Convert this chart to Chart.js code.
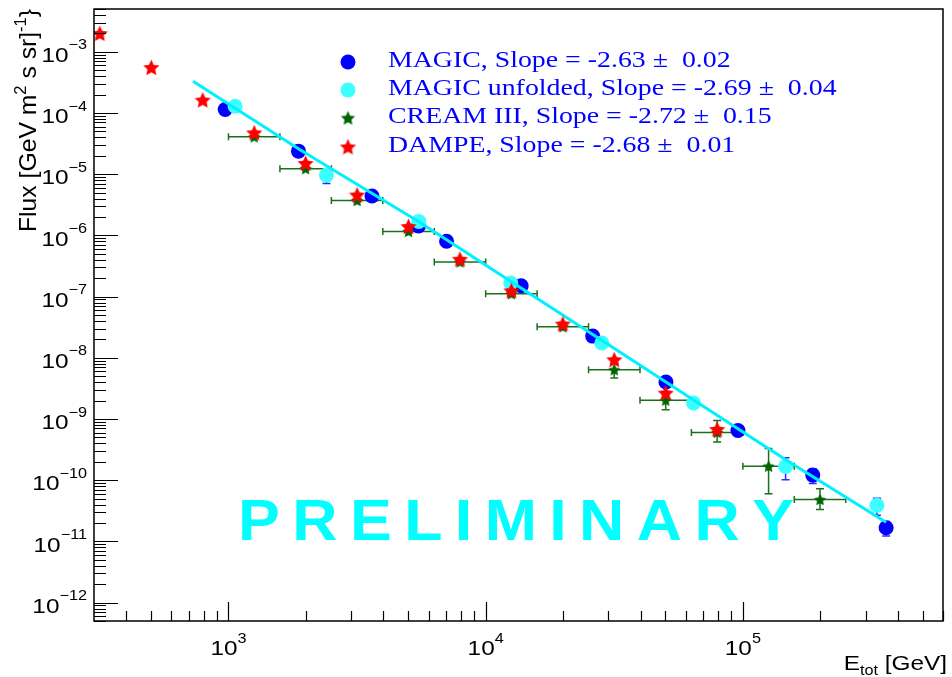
<!DOCTYPE html>
<html>
<head>
<meta charset="utf-8">
<title>Proton flux</title>
<script src="https://cdn.jsdelivr.net/npm/chart.js@4.4.1/dist/chart.umd.min.js"></script>
<style>
  html, body { margin: 0; padding: 0; background: #fff; }
  canvas { display: block; }
</style>
</head>
<body>
<canvas id="fluxChart" width="952" height="677"></canvas>
<script>
// MAGIC
const magicE = [971, 1871, 3614, 5480, 7046, 13740, 26060, 50230, 95700, 187000, 360600];
const magicF = [1.14e-4, 2.38e-5, 4.40e-6, 1.42e-6, 8.02e-7, 1.50e-7, 2.26e-8, 4.03e-9, 6.48e-10, 1.21e-10, 1.67e-11];
const magicErr = [3e-6, 7e-7, 1.5e-7, 5e-8, 3e-8, 6e-9, 1e-9, 2e-10, 3e-11, 3.29e-11, 4.5e-12];

// MAGIC unfolded
const unfoldE = [1061, 2404, 5495, 12520, 28300, 64300, 146600, 332000];
const unfoldF = [1.29e-4, 9.66e-6, 1.69e-6, 1.67e-7, 1.74e-8, 1.82e-9, 1.67e-10, 3.88e-11];
const unfoldErr = [4e-6, 2.63e-6, 6e-8, 6e-9, 7e-10, 1e-10, 6.5e-11, 1.2e-11];

// CREAM III (energy bins)
const creamE = [1259, 1995, 3162, 5012, 7943, 12589, 19953, 31623, 50119, 79433, 125893, 199526];
const creamEmin = [1000, 1585, 2512, 3981, 6310, 10000, 15849, 25119, 39811, 63096, 100000, 158489];
const creamEmax = [1585, 2512, 3981, 6310, 10000, 15849, 25119, 39811, 63096, 100000, 158489, 251189];
const creamF = [4.07e-5, 1.23e-5, 3.71e-6, 1.16e-6, 3.68e-7, 1.11e-7, 3.21e-8, 6.37e-9, 2.03e-9, 6.04e-10, 1.69e-10, 4.83e-11];
const creamErrLo = [1.5e-6, 5e-7, 1.6e-7, 5.5e-8, 1.8e-8, 6e-9, 2.5e-9, 1.70e-9, 6.1e-10, 1.85e-10, 1.09e-10, 1.52e-11];
const creamErrHi = [1.5e-6, 5e-7, 1.6e-7, 5.5e-8, 1.8e-8, 6e-9, 2.5e-9, 1.76e-9, 6.1e-10, 3.42e-10, 1.59e-10, 2.38e-11];

// DAMPE
const dampeE = [316, 501, 794, 1259, 1995, 3162, 5012, 7943, 12589, 19953, 31623, 50119, 79433];
const dampeF = [1.98e-3, 5.52e-4, 1.62e-4, 4.73e-5, 1.50e-5, 4.56e-6, 1.39e-6, 4.07e-7, 1.24e-7, 3.56e-8, 9.27e-9, 2.65e-9, 6.76e-10];

// power-law fit curve
const fitE = [728, 1883, 5480, 12450, 28250, 64100, 148300, 360600];
const fitF = [3.30e-4, 2.56e-5, 1.69e-6, 1.80e-7, 1.93e-8, 2.07e-9, 2.09e-10, 2.06e-11];

const legendLabels = [
  'MAGIC, Slope = -2.63 \u00b1  0.02',
  'MAGIC unfolded, Slope = -2.69 \u00b1  0.04',
  'CREAM III, Slope = -2.72 \u00b1  0.15',
  'DAMPE, Slope = -2.68 \u00b1  0.01'
];
const xTickExp = [3, 4, 5];
const yTickExp = [-3, -4, -5, -6, -7, -8, -9, -10, -11, -12];
const xRange = [300, 6e5];
const yRange = [5e-13, 5e-3];

const BLUE = '#0000ff', CYAN = '#3cffff', GREEN = '#006400', RED = '#ff0000';
const SX = 1.16;              // horizontal glyph stretch
const SANS = 'Liberation Sans, Arial, Helvetica, sans-serif';
const SERIF = 'Liberation Serif, Times New Roman, serif';

function toPoints(xs, ys) {
  return xs.map((x, i) => ({ x: x, y: ys[i] }));
}

function starCanvas(radius, color) {
  const s = Math.ceil(radius * 2 + 2);
  const c = document.createElement('canvas');
  c.width = s; c.height = s;
  const g = c.getContext('2d');
  g.fillStyle = color;
  g.beginPath();
  for (let i = 0; i < 10; i++) {
    const r = i % 2 === 0 ? radius : radius * 0.48;
    const a = -Math.PI / 2 + i * Math.PI / 5;
    g.lineTo(s / 2 + r * Math.cos(a), s / 2 + 0.6 + r * Math.sin(a));
  }
  g.closePath();
  g.fill();
  return c;
}
const redStar = starCanvas(8.5, RED);
const greenStar = starCanvas(6.5, GREEN);
const greenStarKey = starCanvas(7.5, GREEN);

// text made of runs: [text, font, dy]
function runWidth(ctx, parts, sx) {
  let w = 0;
  parts.forEach(p => { ctx.font = p[1]; w += ctx.measureText(p[0]).width * sx; });
  return w;
}
function drawRun(ctx, parts, x, y, align, sx) {
  const total = runWidth(ctx, parts, sx);
  let cx = align === 'right' ? x - total : align === 'center' ? x - total / 2 : x;
  parts.forEach(p => {
    ctx.font = p[1];
    ctx.save();
    ctx.translate(cx, y + (p[2] || 0));
    ctx.scale(sx, 1);
    ctx.textAlign = 'left';
    ctx.textBaseline = 'alphabetic';
    ctx.fillText(p[0], 0, 0);
    ctx.restore();
    cx += ctx.measureText(p[0]).width * sx;
  });
}
function expText(e) {
  return e < 0 ? '\u2212' + (-e) : String(e);
}

const errorBars = {
  id: 'errorBars',
  beforeDatasetsDraw(chart) {
    const ctx = chart.ctx, xs = chart.scales.x, ys = chart.scales.y, a = chart.chartArea;
    ctx.save();
    ctx.beginPath();
    ctx.rect(a.left, a.top, a.right - a.left, a.bottom - a.top);
    ctx.clip();
    ctx.lineWidth = 1.5;
    chart.data.datasets.forEach(ds => {
      const er = ds.errors;
      if (!er) return;
      ctx.strokeStyle = ds.errorColor;
      ds.data.forEach((p, i) => {
        const px = xs.getPixelForValue(p.x);
        const py = ys.getPixelForValue(p.y);
        ctx.beginPath();
        if (er.yLo) {
          const y1 = ys.getPixelForValue(Math.max(p.y - er.yLo[i], 1e-30));
          const y2 = ys.getPixelForValue(p.y + er.yHi[i]);
          ctx.moveTo(px, y1); ctx.lineTo(px, y2);
          ctx.moveTo(px - 4, y1); ctx.lineTo(px + 4, y1);
          ctx.moveTo(px - 4, y2); ctx.lineTo(px + 4, y2);
        }
        if (er.xLo) {
          const x1 = xs.getPixelForValue(er.xLo[i]);
          const x2 = xs.getPixelForValue(er.xHi[i]);
          ctx.moveTo(x1, py); ctx.lineTo(x2, py);
          ctx.moveTo(x1, py - 3.5); ctx.lineTo(x1, py + 3.5);
          ctx.moveTo(x2, py - 3.5); ctx.lineTo(x2, py + 3.5);
        }
        ctx.stroke();
      });
    });
    ctx.restore();
  }
};

const watermark = {
  id: 'watermark',
  beforeDatasetsDraw(chart) {
    const ctx = chart.ctx;
    const word = 'PRELIMINARY';
    const font = 'bold 57px ' + SANS;
    const sx = 1.1, x0 = 238, x1 = 794;
    ctx.save();
    ctx.font = font;
    ctx.fillStyle = '#00ffff';
    const widths = word.split('').map(c => ctx.measureText(c).width * sx);
    const gap = (x1 - x0 - widths.reduce((s, w) => s + w, 0)) / (word.length - 1);
    let x = x0;
    word.split('').forEach((c, i) => {
      drawRun(ctx, [[c, font, 0]], x, 540, 'left', sx);
      x += widths[i] + gap;
    });
    ctx.restore();
  }
};

const rootAxes = {
  id: 'rootAxes',
  afterDraw(chart) {
    const ctx = chart.ctx, xs = chart.scales.x, ys = chart.scales.y, a = chart.chartArea;
    ctx.save();
    ctx.strokeStyle = '#000';
    ctx.fillStyle = '#000';

    // ticks
    ctx.lineWidth = 1.2;
    ctx.beginPath();
    for (let d = -13; d <= -3; d++) {
      for (let m = 1; m <= 9; m++) {
        const v = m * Math.pow(10, d);
        if (v < yRange[0] || v > yRange[1]) continue;
        const py = Math.round(ys.getPixelForValue(v)) + 0.5;
        ctx.moveTo(a.left, py);
        ctx.lineTo(a.left + (m === 1 ? 24 : 12), py);
      }
    }
    for (let d = 2; d <= 5; d++) {
      for (let m = 1; m <= 9; m++) {
        const v = m * Math.pow(10, d);
        if (v <= xRange[0] || v > xRange[1]) continue;
        const px = Math.round(xs.getPixelForValue(v)) + 0.5;
        ctx.moveTo(px, a.bottom);
        ctx.lineTo(px, a.bottom - (m === 1 ? 19 : 10));
      }
    }
    ctx.stroke();

    // frame
    ctx.lineWidth = 1.5;
    ctx.strokeRect(a.left, a.top, a.right - a.left, a.bottom - a.top);

    // tick labels
    const base = '21px ' + SANS, sup = '14px ' + SANS;
    yTickExp.forEach(e => {
      const py = ys.getPixelForValue(Math.pow(10, e));
      drawRun(ctx, [['10', base, 0], [expText(e), sup, -12.5]], 87, py + 10.2, 'right', SX);
    });
    xTickExp.forEach(e => {
      const px = xs.getPixelForValue(Math.pow(10, e));
      drawRun(ctx, [['10', base, 0], [expText(e), sup, -12.5]], px, 655, 'center', SX);
    });

    // axis titles
    drawRun(ctx, [['E', base, 0], ['tot', sup, 5], [' [GeV]', base, 0]], 947, 670, 'right', SX);
    ctx.save();
    ctx.translate(36, 9);
    ctx.rotate(-Math.PI / 2);
    const tf = '24px ' + SANS, ts = '16px ' + SANS;
    drawRun(ctx, [['Flux [GeV m', tf, 0], ['2', ts, -10], [' s sr]', tf, 0], ['-1', ts, -10], ['}', tf, 0]], 0, 0, 'right', 1.03);
    ctx.restore();

    // legend
    const rows = [62, 90, 118, 147];
    ctx.fillStyle = BLUE;
    ctx.beginPath(); ctx.arc(348, rows[0], 7.5, 0, Math.PI * 2); ctx.fill();
    ctx.fillStyle = CYAN;
    ctx.beginPath(); ctx.arc(348, rows[1], 7.5, 0, Math.PI * 2); ctx.fill();
    ctx.drawImage(greenStarKey, 348 - greenStarKey.width / 2, rows[2] - greenStarKey.height / 2);
    ctx.drawImage(redStar, 348 - redStar.width / 2, rows[3] - redStar.height / 2);
    ctx.fillStyle = BLUE;
    const lf = '24px ' + SERIF;
    legendLabels.forEach((t, i) => {
      drawRun(ctx, [[t, lf, 0]], 388, rows[i] + 5, 'left', SX);
    });
    ctx.restore();
  }
};

new Chart(document.getElementById('fluxChart').getContext('2d'), {
  type: 'scatter',
  data: {
    datasets: [
      {
        label: 'DAMPE',
        data: toPoints(dampeE, dampeF),
        pointStyle: redStar,
        pointRadius: 8,
        order: 0
      },
      {
        label: 'CREAM III',
        data: toPoints(creamE, creamF),
        pointStyle: greenStar,
        pointRadius: 6,
        errors: { xLo: creamEmin, xHi: creamEmax, yLo: creamErrLo, yHi: creamErrHi },
        errorColor: '#1a701a',
        order: 1
      },
      {
        type: 'line',
        label: 'fit',
        data: toPoints(fitE, fitF),
        borderColor: '#00f0ff',
        borderWidth: 3,
        pointRadius: 0,
        tension: 0,
        order: 2
      },
      {
        label: 'MAGIC unfolded',
        data: toPoints(unfoldE, unfoldF),
        pointStyle: 'circle',
        pointRadius: 7.5,
        backgroundColor: CYAN,
        borderWidth: 0,
        errors: { yLo: unfoldErr, yHi: unfoldErr },
        errorColor: '#2a2aff',
        order: 3
      },
      {
        label: 'MAGIC',
        data: toPoints(magicE, magicF),
        pointStyle: 'circle',
        pointRadius: 7.5,
        backgroundColor: BLUE,
        borderWidth: 0,
        errors: { yLo: magicErr, yHi: magicErr },
        errorColor: '#2a2aff',
        order: 4
      }
    ]
  },
  options: {
    responsive: false,
    animation: false,
    devicePixelRatio: 1,
    layout: { padding: { left: 94, top: 8, right: 5, bottom: 56 } },
    scales: {
      x: { type: 'logarithmic', min: xRange[0], max: xRange[1], display: false },
      y: { type: 'logarithmic', min: yRange[0], max: yRange[1], display: false }
    },
    plugins: {
      legend: { display: false },
      tooltip: { enabled: false }
    }
  },
  plugins: [watermark, errorBars, rootAxes]
});
</script>
</body>
</html>
